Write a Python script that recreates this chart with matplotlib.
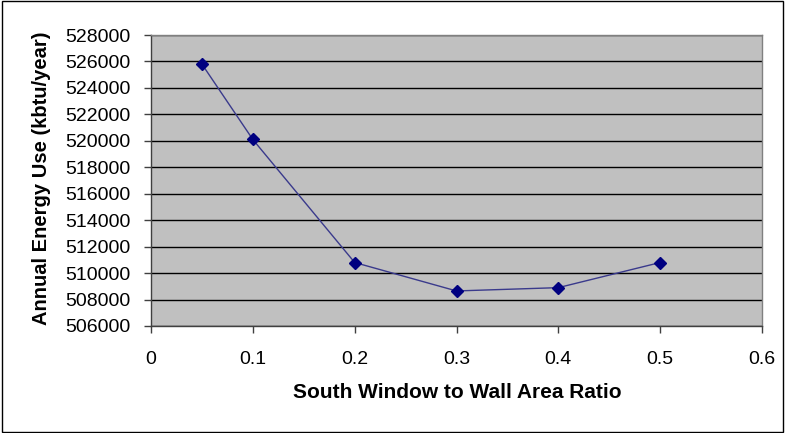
import matplotlib.pyplot as plt
from matplotlib.patches import Rectangle

# window-to-wall ratio vs annual energy use
ratio = [0.05, 0.1, 0.2, 0.3, 0.4, 0.5]
energy = [525800, 520100, 510800, 508650, 508900, 510800]

x_ticks = [0, 0.1, 0.2, 0.3, 0.4, 0.5, 0.6]
y_ticks = list(range(506000, 528001, 2000))

plt.rcParams["font.family"] = ["Liberation Sans", "DejaVu Sans"]

fig = plt.figure(figsize=(7.85, 4.33), dpi=100)
ax = fig.add_axes([151 / 785, 1 - 326 / 433, 611 / 785, 291 / 433])
ax.set_facecolor("#c0c0c0")

ax.plot(ratio, energy, color="#3a3a8c", linewidth=1.0, marker="D",
        markersize=6.5, markerfacecolor="#000080", markeredgecolor="#000080",
        zorder=3)

ax.set_xlim(0, 0.6)
ax.set_ylim(506000, 528000)
ax.set_xticks(x_ticks)
ax.set_xticklabels(["0", "0.1", "0.2", "0.3", "0.4", "0.5", "0.6"])
ax.set_yticks(y_ticks)
ax.set_yticklabels([str(v) for v in y_ticks])
ax.tick_params(axis="both", labelsize=14, direction="out", length=5,
               width=1, color="#404040")
ax.tick_params(axis="x", pad=13)
ax.tick_params(axis="y", pad=10)
ax.grid(axis="y", color="black", linewidth=1.0)
ax.set_axisbelow(True)

for side in ["left", "bottom"]:
    ax.spines[side].set_color("#404040")
    ax.spines[side].set_linewidth(1.0)
for side in ["top", "right"]:
    ax.spines[side].set_color("#808080")
    ax.spines[side].set_linewidth(1.0)

fig.text(457 / 785, 1 - 393 / 433, "South Window to Wall Area Ratio",
         fontsize=15, fontweight="bold", ha="center", va="center")
fig.text(42 / 785, 1 - 178 / 433, "Annual Energy Use (kbtu/year)",
         fontsize=14.5, fontweight="bold", rotation=90,
         ha="center", va="center")

# chart frame
fig.patches.append(Rectangle((0.002, 0.002), 0.996, 0.996,
                             transform=fig.transFigure, fill=False,
                             edgecolor="black", linewidth=1.0))

fig.savefig("out.png", dpi=100)
